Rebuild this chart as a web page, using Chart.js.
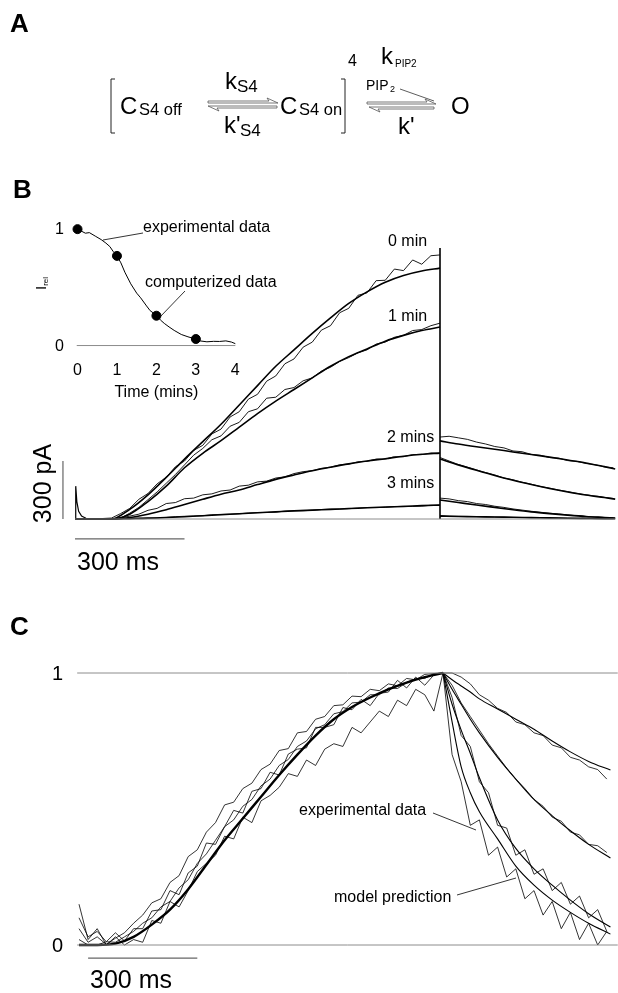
<!DOCTYPE html>
<html>
<head>
<meta charset="utf-8">
<script src="https://cdn.jsdelivr.net/npm/chart.js@4.4.0/dist/chart.umd.min.js"></script>
<style>
  body { margin: 0; background: #fff; width: 618px; height: 993px; position: relative; overflow: hidden;
         font-family: "Liberation Sans", Arial, sans-serif; color: #000; }
  canvas { position: absolute; }
  .t { position: absolute; white-space: nowrap; line-height: 1; }
  #ann { position: absolute; left: 0; top: 0; }
</style>
</head>
<body>
<canvas id="chartB"></canvas>
<canvas id="chartInset"></canvas>
<canvas id="chartC"></canvas>
<svg id="ann" width="618" height="993"></svg>
<script>
/* ============================================================
   Figure: S4 / PIP2 gating model – panels A, B (+inset), C
   ============================================================ */

// ---- Panel B: current traces (pA) vs time (ms) ----
const tB    = [0,50,100,125,150,175,200,225,250,275,300,325,350,375,400,425,450,475,500,525,550,575,600,625,650,675,700,725,750,775,800,825,850,875,900,925,950,975,1000];
const expB0 = [0,0,5,28,55,102,132,182,216,270,300,355,381,440,465,528,555,620,645,713,740,803,828,889,915,977,1000,1067,1090,1157,1170,1233,1235,1293,1285,1340,1318,1362,1366];
const expB1 = [0,0,0,5,30,60,100,140,185,230,280,330,365,410,430,480,500,555,570,625,630,670,680,715,730,765,785,815,835,860,875,905,915,940,950,975,980,1000,1013];
const expB2 = [0,0,0,5,15,25,45,55,80,85,105,108,125,130,145,150,170,175,192,196,212,218,235,245,250,262,268,280,284,296,298,310,310,322,322,333,333,342,341];
const expB3 = [0,0,0,2,2,5,6,6,8,12,14,15,17,22,24,25,27,31,33,34,36,41,43,43,45,49,51,51,53,57,59,59,60,64,66,65,67,71,72];

const tModB = [0,100,150,200,250,300,350,400,450,500,550,600,650,700,750,800,850,900,950,1000];
const modB0 = [0,0,50,125,215,310,400,490,590,690,790,875,960,1040,1115,1175,1225,1260,1283,1298];
const modB1 = [0,0,25,90,170,265,340,405,475,545,610,670,730,790,840,880,920,950,975,993];
const modB2 = [0,0,8,25,48,75,102,128,150,178,205,228,250,268,285,300,312,325,335,341];
const modB3 = [0,0,2,4,8,12,17,22,27,32,37,42,46,50,54,58,62,65,69,72];

// tail currents after the step
const tTailM  = [1000,1050,1100,1150,1200,1250,1300,1350,1400,1450,1480];
const tailMB0 = [404,388,374,361,347,334,320,305,290,271,259];
const tailMB1 = [310,280,252,225,200,178,158,140,124,111,103];
const tailMB2 = [98,85,72,60,48,37,28,20,13,8,5];
const tailMB3 = [15,13,12,10,9,7,6,4,3,2,2];
const tTailE  = [1000,1025,1050,1075,1100,1125,1150,1175,1200,1225,1250,1275,1300,1325,1350,1375,1400,1425,1450,1475];
const tailEB0 = [424,428,420,412,398,388,375,368,352,348,334,330,318,315,302,298,287,281,270,265];
const tailEB1 = [318,300,282,268,254,240,228,212,203,190,180,168,160,150,142,133,125,119,112,106];
const tailEB2 = [108,104,95,90,80,75,66,60,52,46,40,35,30,26,21,17,13,10,8,6];
const tailEB3 = [18,15,14,13,12,11,10,9,8,8,7,6,5,5,4,3,3,2,2,2];

const spikeT = [0,2,5,10,18,30,50];
const spikeV = [0,170,90,40,15,4,0];
const stepT  = [1000,1000];
const stepV  = [1402,0];
const traceLabelsB = ["0 min", "1 min", "2 mins", "3 mins"];
const barMs = 300, barPa = 300;

// ---- Panel B inset: relative current vs time (mins) ----
const insetT = [0,0.2,0.3,0.45,0.6,0.72,0.82,0.9,1.0,1.1,1.2,1.35,1.5,1.6,1.75,1.84,1.92,2.0,2.1,2.2,2.32,2.45,2.63,2.8,3.0,3.1,3.28,3.45,3.6,3.76,3.9,4.0];
const insetV = [1.0,0.965,0.97,0.94,0.91,0.88,0.85,0.81,0.77,0.71,0.63,0.53,0.45,0.41,0.34,0.30,0.28,0.255,0.22,0.19,0.16,0.13,0.095,0.075,0.055,0.04,0.032,0.036,0.035,0.04,0.03,0.016];
const dotT = [0,1,2,3];
const dotV = [1.0,0.77,0.256,0.056];
const insetTicksX = [0,1,2,3,4];
const insetTicksY = [0,1];

// ---- Panel C: normalised traces vs time (ms) ----
const tC = [0,25,50,75,100,125,150,175,200,225,250,275,300,325,350,375,400,425,450,475,500,525,550,575,600,625,650,675,700,725,750,775,800,825,850,875,900,925,950,975,1000,1025,1050,1075,1100,1125,1150,1175,1200,1225,1250,1275,1300,1325,1350,1375,1400,1425,1450];
const expC1 = [0.02,0,0,0.012,0.01,0.03,0.05,0.08,0.1,0.14,0.16,0.21,0.24,0.3,0.335,0.385,0.435,0.46,0.51,0.535,0.585,0.61,0.66,0.682,0.73,0.75,0.795,0.81,0.85,0.858,0.89,0.893,0.92,0.92,0.945,0.943,0.965,0.98,0.98,0.998,1.0,
               1.0,0.985,0.96,0.92,0.9,0.87,0.855,0.82,0.81,0.78,0.77,0.735,0.725,0.69,0.68,0.655,0.645,0.61];
const expC2 = [0.06,0.01,0.03,0.002,0.025,0.045,0.08,0.11,0.155,0.17,0.23,0.255,0.325,0.35,0.415,0.45,0.515,0.525,0.575,0.595,0.645,0.665,0.715,0.722,0.78,0.785,0.83,0.84,0.88,0.883,0.915,0.913,0.94,0.935,0.96,0.953,0.98,0.975,0.995,0.998,1.0,
               0.955,0.89,0.84,0.79,0.74,0.695,0.65,0.61,0.575,0.535,0.51,0.47,0.455,0.415,0.405,0.37,0.365,0.34];
const expC3 = [0.1,0.03,0.05,0.012,0.045,0.015,0.06,0.06,0.125,0.13,0.2,0.185,0.265,0.29,0.375,0.37,0.435,0.495,0.485,0.565,0.575,0.635,0.625,0.702,0.72,0.725,0.8,0.8,0.81,0.873,0.865,0.903,0.88,0.925,0.93,0.973,0.945,0.985,0.955,0.993,1.0,
               0.91,0.77,0.73,0.6,0.56,0.44,0.43,0.33,0.35,0.26,0.28,0.2,0.23,0.15,0.18,0.1,0.13,0.05];
const expC4 = [0.15,0.02,0.06,0,0.03,0,0.02,0.01,0.09,0.08,0.16,0.14,0.2,0.27,0.3,0.33,0.4,0.39,0.47,0.45,0.53,0.55,0.58,0.63,0.62,0.68,0.66,0.72,0.74,0.73,0.8,0.78,0.82,0.86,0.84,0.9,0.88,0.94,0.92,0.86,1.0,
               0.7,0.6,0.44,0.46,0.33,0.36,0.25,0.28,0.17,0.2,0.11,0.16,0.06,0.12,0.02,0.08,0,0.05];

const tModCR = [0,50,100,150,200,250,300,350,400,450,500,550,600,650,700,750,800,850,900,950,1000];
const modCR  = [0,0,0.005,0.03,0.075,0.13,0.205,0.295,0.385,0.465,0.545,0.625,0.70,0.77,0.83,0.875,0.91,0.94,0.965,0.985,1.0];
const tModCD = [1000,1025,1050,1075,1100,1150,1200,1250,1300,1350,1400,1460];
const modCD1 = [1.0,0.975,0.952,0.93,0.905,0.868,0.83,0.793,0.75,0.71,0.675,0.643];
const modCD2 = [1.0,0.94,0.885,0.83,0.78,0.69,0.61,0.535,0.475,0.42,0.37,0.32];
const modCD3 = [1.0,0.885,0.79,0.705,0.615,0.46,0.355,0.28,0.22,0.165,0.115,0.066];
const modCD4 = [1.0,0.82,0.655,0.56,0.49,0.39,0.29,0.22,0.165,0.12,0.08,0.04];
const ticksC = [0,1];

// ---- helpers ----
function series(xs, ys, w, color, smooth) {
  return {
    data: xs.map((x, i) => ({ x, y: ys[i] })),
    showLine: true, borderColor: color, borderWidth: w, pointRadius: 0,
    fill: false, tension: 0, clip: false,
    cubicInterpolationMode: smooth ? "monotone" : "default"
  };
}

// box = canvas placement on the page, cal = page pixel of value 0 and px per unit
function plot(id, box, cal, datasets) {
  const cv = document.getElementById(id);
  cv.width = box.w; cv.height = box.h;
  cv.style.left = box.x + "px"; cv.style.top = box.y + "px";
  return new Chart(cv, {
    type: "scatter",
    data: { datasets },
    options: {
      responsive: false, animation: false, events: [],
      layout: { padding: 0 },
      plugins: { legend: { display: false }, tooltip: { enabled: false } },
      scales: {
        x: { type: "linear", display: false, bounds: "data",
             min: (box.x - cal.x0) / cal.xs, max: (box.x + box.w - cal.x0) / cal.xs },
        y: { type: "linear", display: false, bounds: "data",
             min: (cal.y0 - box.y - box.h) / cal.ys, max: (cal.y0 - box.y) / cal.ys }
      }
    }
  });
}

function lab(html, x, cy, size, align, extra) {
  const d = document.createElement("div");
  d.className = "t";
  d.innerHTML = html;
  d.style.fontSize = size + "px";
  if (extra) Object.assign(d.style, extra);
  document.body.appendChild(d);
  const w = d.offsetWidth;
  d.style.left = (align === "right" ? x - w : align === "center" ? x - w / 2 : x) + "px";
  d.style.top = (cy - 0.4885 * size) + "px";
  return d;
}
// baseline-positioned text (scheme in panel A)
function labB(html, x, base, size) {
  const d = lab(html, x, 0, size);
  d.style.top = (base - 0.8465 * size) + "px";
  return d;
}
function rot(html, cx, cy, size) {
  const d = lab(html, 0, 0, size);
  d.style.left = (cx - d.offsetWidth / 2) + "px";
  d.style.top = (cy - d.offsetHeight / 2) + "px";
  d.style.transform = "rotate(-90deg)";
}
const px = (chart, box, axis, v) =>
  (axis === "x" ? box.x : box.y) + chart.scales[axis].getPixelForValue(v);

const BLK = "#000", GRY = "#8c8c8c";

// ---- Panel B main ----
const boxB = { x: 45, y: 225, w: 573, h: 325 };
const calB = { x0: 75, xs: 0.365, y0: 519, ys: 0.1933 };
const chartB = plot("chartB", boxB, calB, [
  series([0, 1480], [0, 0], 1, GRY),
  series([-33, -33], [0, barPa], 1.2, "#666"),
  series([0, barMs], [-103, -103], 1.2, "#666"),
  series(spikeT, spikeV, 1.2, BLK),
  series(tB, expB3, 0.9, BLK), series(tB, expB2, 0.9, BLK),
  series(tB, expB1, 0.9, BLK), series(tB, expB0, 0.9, BLK),
  series(tModB, modB3, 1.6, BLK, true), series(tModB, modB2, 1.6, BLK, true),
  series(tModB, modB1, 1.6, BLK, true), series(tModB, modB0, 1.6, BLK, true),
  series(stepT, stepV, 1.6, BLK),
  series(tTailE, tailEB3, 0.9, BLK), series(tTailE, tailEB2, 0.9, BLK),
  series(tTailE, tailEB1, 0.9, BLK), series(tTailE, tailEB0, 0.9, BLK),
  series(tTailM, tailMB3, 1.6, BLK, true), series(tTailM, tailMB2, 1.6, BLK, true),
  series(tTailM, tailMB1, 1.6, BLK, true), series(tTailM, tailMB0, 1.6, BLK, true)
]);

// ---- Panel B inset ----
const boxI = { x: 55, y: 205, w: 200, h: 160 };
const calI = { x0: 73, xs: 41.75, y0: 350, ys: 125 };
const inset = plot("chartInset", boxI, calI, [
  series([-0.02, 4], [0, 0], 1, GRY),
  series(insetT, insetV, 1, BLK),
  { data: dotT.map((x, i) => ({ x, y: dotV[i] })), showLine: false, pointRadius: 4.5,
    pointBackgroundColor: BLK, pointBorderColor: BLK, clip: false }
]);

// ---- Panel C ----
const boxC = { x: 45, y: 640, w: 573, h: 330 };
const calC = { x0: 79, xs: 0.364, y0: 945, ys: 272 };
const chartC = plot("chartC", boxC, calC, [
  series([-5, 1480], [0, 0], 1, GRY),
  series([-5, 1480], [1, 1], 1, GRY),
  series([25, 25 + barMs], [-0.048, -0.048], 1.2, "#666"),
  series(tC, expC4, 0.8, BLK), series(tC, expC3, 0.8, BLK),
  series(tC, expC2, 0.8, BLK), series(tC, expC1, 0.8, BLK),
  series(tModCR, modCR, 2.4, BLK, true),
  series(tModCD, modCD1, 1.1, BLK, true), series(tModCD, modCD2, 1.1, BLK, true),
  series(tModCD, modCD3, 1.1, BLK, true), series(tModCD, modCD4, 1.1, BLK, true)
]);

// ---- Text: panel letters ----
lab("A", 10, 23, 26, "left", { fontWeight: "bold" });
lab("B", 13, 189, 26, "left", { fontWeight: "bold" });
lab("C", 10, 626, 26, "left", { fontWeight: "bold" });

// ---- Panel A scheme ----
labB("C", 120, 114, 24);  labB("S4 off", 139, 115, 16.5);
labB("k", 225, 89, 24);   labB("S4", 237, 92, 17);
labB("k'", 224, 133, 24); labB("S4", 240, 136, 17);
labB("C", 280, 114, 24);  labB("S4 on", 299, 115, 16.5);
labB("4", 348, 67, 16);
labB("k", 381, 64, 24);   labB("PIP2", 395, 67, 10);
labB("PIP", 366, 90, 14); labB("2", 390, 93, 9);
labB("k'", 398, 134, 24);
labB("O", 451, 114, 24);

// ---- Panel B labels ----
lab(traceLabelsB[0], 427, 241, 16, "right");
lab(traceLabelsB[1], 427, 316, 16, "right");
lab(traceLabelsB[2], 434, 437, 16, "right");
lab(traceLabelsB[3], 434, 483, 16, "right");
rot(barPa + " pA", 42, 483, 25);
lab(barMs + " ms", 77, 561, 25);

// inset ticks & labels (placed through the inset scales)
insetTicksX.forEach(v => lab(String(v), px(inset, boxI, "x", v), 370, 16, "center"));
insetTicksY.forEach(v => lab(String(v), 64, px(inset, boxI, "y", v), 16, "right"));
lab("Time (mins)", px(inset, boxI, "x", 2), 392, 16, "center");
lab("experimental data", 143, 227, 16);
lab("computerized data", 145, 282, 16);
rot("I<span style='font-size:8px;position:relative;top:2px'>rel</span>", 40, 283, 15);

// ---- Panel C labels ----
ticksC.forEach(v => lab(String(v), 63, px(chartC, boxC, "y", v), 20, "right"));
lab(barMs + " ms", 90, 979, 25);
lab("experimental data", 299, 810, 16);
lab("model prediction", 334, 897, 16);

// ---- annotation lines (brackets, reaction arrows, leaders) ----
function harpR(x1, x2, y) { return `M${x1},${y-1} L${x2-9},${y-1} L${x2-11},${y-4} L${x2},${y+1} L${x1},${y+1} Z`; }
function harpL(x1, x2, y) { return `M${x2},${y+1} L${x1+9},${y+1} L${x1+11},${y+4} L${x1},${y-1} L${x2},${y-1} Z`; }
const svgParts = [
  // brackets
  `<path d="M115,79 L111,79 L111,133 L115,133" fill="none" stroke="#222" stroke-width="1"/>`,
  `<path d="M341,79 L345,79 L345,133 L341,133" fill="none" stroke="#222" stroke-width="1"/>`,
  // reaction arrows
  `<path d="${harpR(208, 278, 102)}" fill="#fff" stroke="#555" stroke-width="0.8"/>`,
  `<path d="${harpL(208, 277, 107)}" fill="#fff" stroke="#555" stroke-width="0.8"/>`,
  `<path d="${harpR(367, 436, 103)}" fill="#fff" stroke="#555" stroke-width="0.8"/>`,
  `<path d="${harpL(369, 434, 108)}" fill="#fff" stroke="#555" stroke-width="0.8"/>`,
  `<line x1="400" y1="89" x2="434" y2="101" stroke="#333" stroke-width="0.8"/>`,
  // inset leaders
  `<line x1="103" y1="240" x2="143" y2="233" stroke="#000" stroke-width="0.8"/>`,
  `<line x1="185" y1="291" x2="160" y2="317" stroke="#000" stroke-width="0.8"/>`,
  // panel C leaders
  `<line x1="433" y1="813" x2="476" y2="830" stroke="#000" stroke-width="0.8"/>`,
  `<line x1="457" y1="895" x2="516" y2="878" stroke="#000" stroke-width="0.8"/>`
];
document.getElementById("ann").innerHTML = svgParts.join("");
</script>
</body>
</html>
